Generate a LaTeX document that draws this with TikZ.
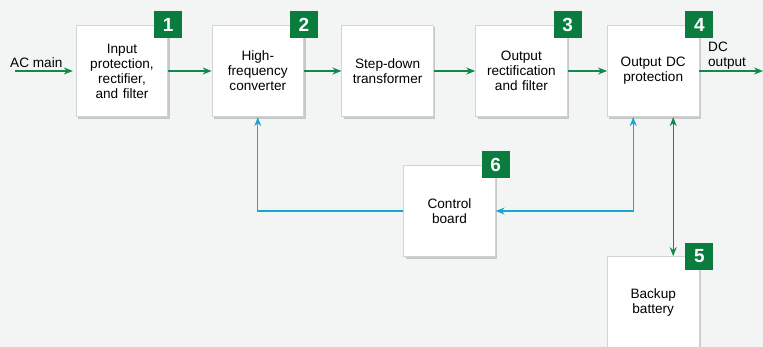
\documentclass[tikz,border=0pt]{standalone}
\usepackage{fontspec}
\setmainfont{Liberation Sans}
\usetikzlibrary{arrows.meta,positioning,shadows}
\definecolor{bggray}{HTML}{F3F5F5}
\definecolor{boxline}{HTML}{D0D4D4}
\definecolor{taggreen}{HTML}{0A7D3E}
\definecolor{linegreen}{HTML}{12884A}
\definecolor{lineblue}{HTML}{1BA6D2}
\begin{document}
\begin{tikzpicture}[
      x=1pt,y=1pt,
      font=\fontsize{13.6}{15}\selectfont,
      node distance = 40pt and 40pt,
      block/.style = {rectangle,draw=boxline,line width=0.8pt,fill=white,minimum width=91.5pt,minimum height=91.5pt,
        inner sep=0pt,text width=88pt,align=center,
        drop shadow={shadow xshift=2pt,shadow yshift=-2pt,opacity=0.18,fill=black}},
      tag/.style = {rectangle,fill=taggreen,text=white,inner sep=0pt,minimum width=28pt,minimum height=27pt,
        font=\fontsize{19}{19}\selectfont\bfseries},
      garrow/.style = {draw=linegreen,line width=1.3pt,-{Stealth[length=9pt,width=7pt]}},
      barrow/.style = {draw=lineblue,line width=1.3pt,-{Stealth[length=9pt,width=7pt]}}
    ]
      \fill[bggray] (0,0) rectangle (763,-347);
      \useasboundingbox (0,0) rectangle (763,-347);
      % main chain
      \node (input)[block] at (122,-71){Input\\protection,\\rectifier,\\and filter};
      \node (hf)[block,right = 43.5pt of input]{High-\\frequency\\converter};
      \node (step)[block,right = 37.5pt of hf]{Step-down\\transformer};
      \node (outrect)[block,right = 41.5pt of step]{Output\\rectification\\and filter};
      \node (dcprot)[block,right = 39.5pt of outrect]{Output DC\\protection};
      \node (ctrl)[block] at (449.5,-211){Control\\board};
      \node (batt)[block,below = 139pt of dcprot]{Backup\\battery};
      % number tags
      \node (tag1)[tag] at (input.north east){1};
      \node (tag2)[tag] at (hf.north east){2};
      \node (tag3)[tag] at (outrect.north east){3};
      \node (tag4)[tag] at (dcprot.north east){4};
      \node (tag5)[tag] at (batt.north east){5};
      \node (tag6)[tag] at (ctrl.north east){6};
      % power path
      \coordinate (acin) at (15,-71);
      \coordinate (dcout) at (763,-71);
      \draw [garrow,shorten >=3pt] (acin) -- node[above,pos=0.35,inner sep=3pt]{AC main} (input.west);
      \draw [garrow] (input.east) -- (hf.west);
      \draw [garrow] (hf.east) -- (step.west);
      \draw [garrow] (step.east) -- (outrect.west);
      \draw [garrow] (outrect.east) -- (dcprot.west);
      \draw [garrow] (dcprot.east) -- node[above,align=left,text width=44pt,inner sep=1pt,xshift=-1pt]{DC\\output} (dcout);
      \draw [garrow,{Stealth[length=9pt,width=7pt]}-{Stealth[length=9pt,width=7pt]}] ([xshift=20pt]dcprot.south) -- ([xshift=20pt]batt.north);
      % control loop
      \draw [barrow] (ctrl.west) -| (hf.south);
      \draw [barrow,{Stealth[length=9pt,width=7pt]}-{Stealth[length=9pt,width=7pt]}] ([xshift=-20pt]dcprot.south) |- (ctrl.east);
    \end{tikzpicture}
\end{document}
